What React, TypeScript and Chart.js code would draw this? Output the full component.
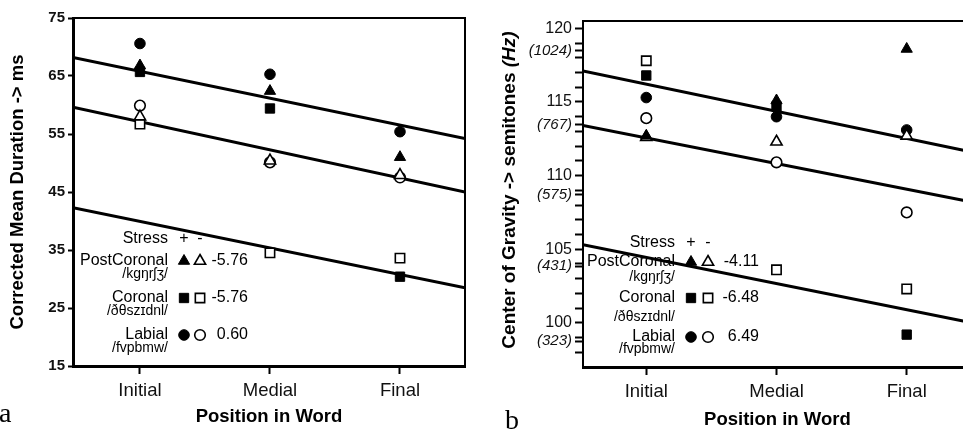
import React, { useEffect, useRef } from 'react';
import { Chart, registerables } from 'chart.js';

Chart.register(...registerables);

const FONT = '"Liberation Sans", Arial, Helvetica, sans-serif';
const SERIF = '"Liberation Serif", "Times New Roman", serif';

// ---------- shared ----------
const categories = ['Initial', 'Medial', 'Final'];
const positions = [1, 2, 3];
const legendClasses = ['PostCoronal', 'Coronal', 'Labial'];
const legendIPA = ['/kgŋrʃʒ/', '/ðθszɪdnl/', '/fvpbmw/'];
const classShapes = ['triangle', 'rect', 'circle'];

// ---------- panel a: corrected mean duration (ms) ----------
const durTicks = [15, 25, 35, 45, 55, 65, 75];
const durPostCoronalStressed = [66.8, 62.4, 51.0];
const durPostCoronalUnstressed = [58.0, 50.4, 47.9];
const durCoronalStressed = [65.7, 59.4, 30.4];
const durCoronalUnstressed = [56.7, 34.5, 33.6];
const durLabialStressed = [70.6, 65.3, 55.4];
const durLabialUnstressed = [59.9, 50.1, 47.5];
const durFitX = [0.485, 3.5];
const durFitUpper = [68.2, 54.2];
const durFitMiddle = [59.6, 45.0];
const durFitLower = [42.3, 28.5];
const durCoefficients = ['-5.76', '-5.76', '0.60'];

// ---------- panel b: center of gravity (semitones / Hz) ----------
const cogMajorTicks = [100, 105, 110, 115, 120];
const cogHzPositions = [98.75, 103.85, 108.7, 113.45, 118.5];
const cogHzLabels = ['(323)', '(431)', '(575)', '(767)', '(1024)'];
const cogPostCoronalStressed = [112.7, 115.1, 118.6];
const cogPostCoronalUnstressed = [112.6, 112.3, 112.7];
const cogCoronalStressed = [116.8, 114.7, 99.2];
const cogCoronalUnstressed = [117.8, 103.6, 102.3];
const cogLabialStressed = [115.3, 114.0, 113.1];
const cogLabialUnstressed = [113.9, 110.9, 107.5];
const cogFitX = [0.514, 3.5];
const cogFitUpper = [117.1, 111.6];
const cogFitMiddle = [113.4, 108.2];
const cogFitLower = [105.3, 100.0];
const cogCoefficients = ['-4.11', '-6.48', '6.49'];

const near = (a: number, b: number) => Math.abs(a - b) < 1e-6;

const radiusFor: Record<string, number> = { triangle: 6.5, rect: 6.6, circle: 5.3 };

function markerSet(label: string, ys: number[], shape: string, filled: boolean) {
  return {
    label,
    data: ys.map((y, i) => ({ x: positions[i], y })),
    pointStyle: shape,
    pointRadius: radiusFor[shape],
    backgroundColor: filled ? '#000' : '#fff',
    borderColor: '#000',
    borderWidth: filled ? 1 : 1.6,
    showLine: false,
    order: 1,
  };
}

function fitSet(label: string, xs: number[], ys: number[]) {
  return {
    label,
    data: xs.map((x, i) => ({ x, y: ys[i] })),
    showLine: true,
    borderColor: '#000',
    borderWidth: 3,
    pointRadius: 0,
    order: 5,
  };
}

function drawShape(ctx: CanvasRenderingContext2D, shape: string, x: number, y: number, filled: boolean) {
  const r = radiusFor[shape];
  ctx.beginPath();
  if (shape === 'circle') {
    ctx.arc(x, y, r, 0, Math.PI * 2);
  } else if (shape === 'rect') {
    const s = Math.SQRT1_2 * r;
    ctx.rect(x - s, y - s, 2 * s, 2 * s);
  } else {
    let a = 0;
    ctx.moveTo(x + Math.sin(a) * r, y - Math.cos(a) * r);
    a += (2 * Math.PI) / 3;
    ctx.lineTo(x + Math.sin(a) * r, y - Math.cos(a) * r);
    a += (2 * Math.PI) / 3;
    ctx.lineTo(x + Math.sin(a) * r, y - Math.cos(a) * r);
    ctx.closePath();
  }
  ctx.fillStyle = filled ? '#000' : '#fff';
  ctx.fill();
  ctx.lineWidth = filled ? 1 : 1.6;
  ctx.strokeStyle = '#000';
  ctx.stroke();
}

type Decor = {
  letter: string;
  letterX: number;
  letterY: number;
  rightBorder: boolean;
  legend: {
    rx: number;
    c1: number;
    c2: number;
    vx: number;
    stressY: number;
    rowY: number[];
    ipaY: number[];
    values: string[];
  };
  yTitle?: { x: number; y: number; main: string; italic: string };
};

function makeDecor(d: Decor) {
  return {
    id: 'decor' + d.letter,
    afterDraw(chart: any) {
      const ctx: CanvasRenderingContext2D = chart.ctx;
      const a = chart.chartArea;
      ctx.save();
      // frame: top (and right) border
      ctx.strokeStyle = '#000';
      ctx.lineWidth = 2;
      ctx.beginPath();
      ctx.moveTo(a.left, a.top);
      ctx.lineTo(a.right, a.top);
      if (d.rightBorder) ctx.lineTo(a.right, a.bottom);
      ctx.stroke();

      // in-plot legend
      const L = d.legend;
      ctx.fillStyle = '#000';
      ctx.textBaseline = 'middle';
      ctx.font = `16px ${FONT}`;
      ctx.textAlign = 'right';
      ctx.fillText('Stress', L.rx, L.stressY);
      ctx.textAlign = 'center';
      ctx.fillText('+', L.c1, L.stressY);
      ctx.fillText('-', L.c2, L.stressY);
      legendClasses.forEach((name, i) => {
        ctx.fillStyle = '#000';
        ctx.textAlign = 'right';
        ctx.font = `16px ${FONT}`;
        ctx.fillText(name, L.rx, L.rowY[i]);
        ctx.fillText(L.values[i], L.vx, L.rowY[i]);
        ctx.font = `14px ${FONT}`;
        ctx.fillText(legendIPA[i], L.rx, L.ipaY[i]);
        drawShape(ctx, classShapes[i], L.c1, L.rowY[i], true);
        drawShape(ctx, classShapes[i], L.c2, L.rowY[i], false);
      });

      // custom rotated y title with italic part
      if (d.yTitle) {
        const t = d.yTitle;
        ctx.save();
        ctx.translate(t.x, t.y);
        ctx.rotate(-Math.PI / 2);
        ctx.fillStyle = '#000';
        ctx.textAlign = 'left';
        ctx.textBaseline = 'middle';
        ctx.font = `bold 19px ${FONT}`;
        const w1 = ctx.measureText(t.main).width;
        ctx.font = `italic bold 19px ${FONT}`;
        const w2 = ctx.measureText(t.italic).width;
        const start = -(w1 + w2) / 2;
        ctx.font = `bold 19px ${FONT}`;
        ctx.fillText(t.main, start, 0);
        ctx.font = `italic bold 19px ${FONT}`;
        ctx.fillText(t.italic, start + w1, 0);
        ctx.restore();
      }

      // panel letter
      ctx.fillStyle = '#000';
      ctx.textAlign = 'left';
      ctx.textBaseline = 'alphabetic';
      ctx.font = `28px ${SERIF}`;
      ctx.fillText(d.letter, d.letterX, d.letterY);
      ctx.restore();
    },
  };
}

function durationConfig(): any {
  return {
    type: 'scatter',
    data: {
      datasets: [
        markerSet('PostCoronal +', durPostCoronalStressed, 'triangle', true),
        markerSet('PostCoronal -', durPostCoronalUnstressed, 'triangle', false),
        markerSet('Coronal +', durCoronalStressed, 'rect', true),
        markerSet('Coronal -', durCoronalUnstressed, 'rect', false),
        markerSet('Labial +', durLabialStressed, 'circle', true),
        markerSet('Labial -', durLabialUnstressed, 'circle', false),
        fitSet('fit upper', durFitX, durFitUpper),
        fitSet('fit middle', durFitX, durFitMiddle),
        fitSet('fit lower', durFitX, durFitLower),
      ],
    },
    options: {
      animation: false,
      responsive: false,
      events: [],
      layout: { padding: { top: 18, right: 15, left: 0, bottom: 0 } },
      plugins: { legend: { display: false }, tooltip: { enabled: false } },
      scales: {
        x: {
          type: 'linear',
          min: durFitX[0],
          max: durFitX[1],
          afterBuildTicks: (s: any) => {
            s.ticks = positions.map((v) => ({ value: v }));
          },
          afterFit: (s: any) => {
            s.height = 69;
          },
          ticks: {
            autoSkip: false,
            maxRotation: 0,
            padding: 6,
            color: '#111',
            font: { family: FONT, size: 18.5 },
            callback: (v: number) => categories[Math.round(v) - 1] ?? '',
          },
          grid: { drawOnChartArea: false, drawTicks: true, tickLength: 8, tickWidth: 2, tickColor: '#000' },
          border: { display: true, color: '#000', width: 3 },
          title: {
            display: true,
            text: 'Position in Word',
            color: '#000',
            font: { family: FONT, size: 18.5, weight: 'bold' },
            padding: { top: 0, bottom: 7 },
          },
        },
        y: {
          type: 'linear',
          min: durTicks[0],
          max: durTicks[durTicks.length - 1],
          afterBuildTicks: (s: any) => {
            s.ticks = durTicks.map((v) => ({ value: v }));
          },
          afterFit: (s: any) => {
            s.width = 73;
          },
          ticks: {
            autoSkip: false,
            padding: 3,
            color: '#111',
            font: { family: FONT, size: 15, weight: 'bold' },
            callback: (v: number) => String(v),
          },
          grid: { drawOnChartArea: false, drawTicks: true, tickLength: 5, tickWidth: 2, tickColor: '#000' },
          border: { display: true, color: '#000', width: 3 },
          title: {
            display: true,
            text: 'Corrected Mean Duration -> ms',
            color: '#000',
            font: { family: FONT, size: 18.5, weight: 'bold' },
            padding: { top: 7, bottom: 0 },
          },
        },
      },
    },
    plugins: [
      makeDecor({
        letter: 'a',
        letterX: -1,
        letterY: 422,
        rightBorder: true,
        legend: {
          rx: 168,
          c1: 184,
          c2: 200,
          vx: 248,
          stressY: 239,
          rowY: [261, 298, 335],
          ipaY: [274, 311, 348],
          values: durCoefficients,
        },
      }),
    ],
  };
}

const isHz = (v: number) => cogHzPositions.some((h) => near(h, v));

function cogConfig(): any {
  return {
    type: 'scatter',
    data: {
      datasets: [
        markerSet('PostCoronal +', cogPostCoronalStressed, 'triangle', true),
        markerSet('PostCoronal -', cogPostCoronalUnstressed, 'triangle', false),
        markerSet('Coronal +', cogCoronalStressed, 'rect', true),
        markerSet('Coronal -', cogCoronalUnstressed, 'rect', false),
        markerSet('Labial +', cogLabialStressed, 'circle', true),
        markerSet('Labial -', cogLabialUnstressed, 'circle', false),
        fitSet('fit upper', cogFitX, cogFitUpper),
        fitSet('fit middle', cogFitX, cogFitMiddle),
        fitSet('fit lower', cogFitX, cogFitLower),
      ],
    },
    options: {
      animation: false,
      responsive: false,
      events: [],
      layout: { padding: { top: 21, right: 5, left: 0, bottom: 0 } },
      plugins: { legend: { display: false }, tooltip: { enabled: false } },
      scales: {
        x: {
          type: 'linear',
          min: cogFitX[0],
          max: cogFitX[1],
          afterBuildTicks: (s: any) => {
            s.ticks = positions.map((v) => ({ value: v }));
          },
          afterFit: (s: any) => {
            s.height = 68;
          },
          ticks: {
            autoSkip: false,
            maxRotation: 0,
            padding: 6,
            color: '#111',
            font: { family: FONT, size: 18.5 },
            callback: (v: number) => categories[Math.round(v) - 1] ?? '',
          },
          grid: { drawOnChartArea: false, drawTicks: true, tickLength: 8, tickWidth: 2, tickColor: '#000' },
          border: { display: true, color: '#000', width: 3 },
          title: {
            display: true,
            text: 'Position in Word',
            color: '#000',
            font: { family: FONT, size: 18.5, weight: 'bold' },
            padding: { top: 0, bottom: 4 },
          },
        },
        y: {
          type: 'linear',
          min: 97,
          max: 120.5,
          afterBuildTicks: (s: any) => {
            const ints = s.ticks.filter((t: any) => t.value >= 98 && near(t.value, Math.round(t.value)));
            s.ticks = [...ints, ...cogHzPositions.map((v) => ({ value: v }))].sort(
              (p: any, q: any) => p.value - q.value,
            );
          },
          afterFit: (s: any) => {
            s.width = 103;
          },
          ticks: {
            stepSize: 1,
            includeBounds: false,
            autoSkip: false,
            padding: 3,
            color: '#111',
            font: (c: any) =>
              c.tick && isHz(c.tick.value)
                ? { family: FONT, size: 15, style: 'italic' }
                : { family: FONT, size: 16 },
            callback: (v: number) => {
              const m = cogMajorTicks.findIndex((t) => near(t, v));
              if (m >= 0) return String(cogMajorTicks[m]);
              const h = cogHzPositions.findIndex((t) => near(t, v));
              if (h >= 0) return cogHzLabels[h];
              return '';
            },
          },
          grid: { drawOnChartArea: false, drawTicks: true, tickLength: 8, tickWidth: 2, tickColor: '#000' },
          border: { display: true, color: '#000', width: 2 },
          title: { display: false },
        },
      },
    },
    plugins: [
      makeDecor({
        letter: 'b',
        letterX: 25,
        letterY: 429,
        rightBorder: true,
        legend: {
          rx: 195,
          c1: 211,
          c2: 228,
          vx: 279,
          stressY: 243,
          rowY: [262, 298, 337],
          ipaY: [277, 317, 349],
          values: cogCoefficients,
        },
        yTitle: { x: 30, y: 190, main: 'Center of Gravity -> semitones ', italic: '(Hz)' },
      }),
    ],
  };
}

function Panel({ make, left, width }: { make: () => any; left: number; width: number }) {
  const ref = useRef<HTMLCanvasElement | null>(null);
  useEffect(() => {
    if (!ref.current) return;
    const chart = new Chart(ref.current, make());
    return () => chart.destroy();
  }, [make]);
  return (
    <canvas
      ref={ref}
      width={width}
      height={435}
      style={{ position: 'absolute', left, top: 0, width, height: 435, display: 'block' }}
    />
  );
}

export default function App() {
  return (
    <div
      style={{
        position: 'fixed',
        left: 0,
        top: 0,
        width: 963,
        height: 435,
        overflow: 'hidden',
        background: '#fff',
      }}
    >
      <Panel make={durationConfig} left={0} width={480} />
      <Panel make={cogConfig} left={480} width={500} />
    </div>
  );
}
